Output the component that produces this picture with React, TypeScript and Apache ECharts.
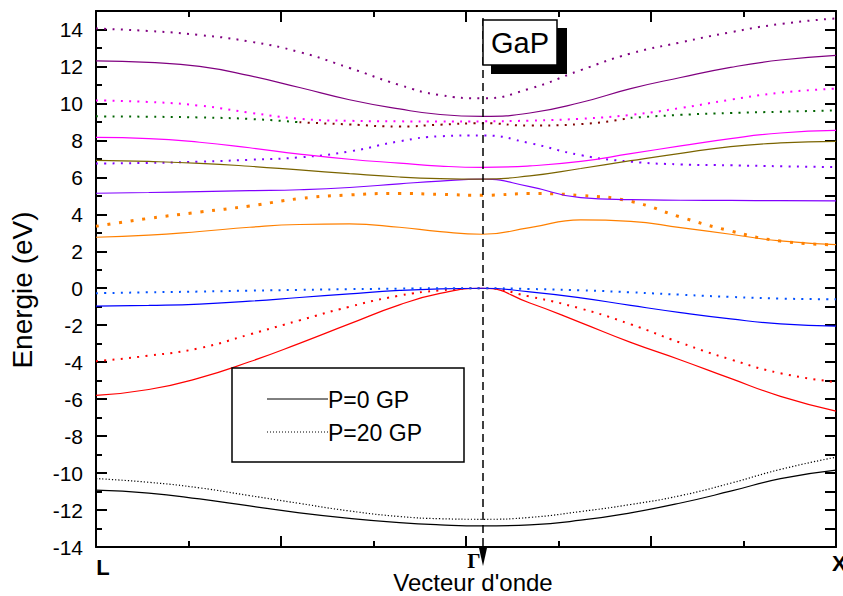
import { useEffect, useRef } from "react";
import * as echarts from "echarts";

// k-path abscissa (L = 0, Γ ≈ 4.18, X = 8)
const kPoints = [0, 0.57, 1.12, 1.66, 2.2, 2.74, 3.28, 3.72, 4.18, 4.69, 5.24, 5.78, 6.32, 6.86, 7.4, 8];
const kLabelL = "L";
const kLabelG = "Γ";
const kLabelX = "X";
const legendLabels = ["P=0 GP", "P=20 GP"];

// P = 0 GP (solid)
const p0Black = [-10.92, -11.08, -11.4, -11.78, -12.15, -12.45, -12.68, -12.8, -12.86, -12.8, -12.55, -12.15, -11.62, -10.98, -10.3, -9.84];
const p0Red = [-5.8, -5.48, -4.85, -3.98, -2.98, -1.93, -0.9, -0.28, 0, -0.8, -1.86, -2.93, -3.88, -4.88, -5.85, -6.65];
const p0Blue = [-0.97, -0.93, -0.86, -0.7, -0.5, -0.3, -0.12, -0.03, 0, -0.2, -0.52, -0.93, -1.32, -1.66, -1.93, -2.05];
const p0Orange = [2.76, 2.87, 3.07, 3.3, 3.45, 3.48, 3.3, 3.06, 2.92, 3.28, 3.7, 3.62, 3.28, 2.92, 2.56, 2.36];
const p0Violet = [5.14, 5.18, 5.23, 5.28, 5.33, 5.45, 5.65, 5.8, 5.9, 5.5, 4.9, 4.79, 4.76, 4.75, 4.74, 4.73];
const p0Olive = [6.92, 6.86, 6.76, 6.6, 6.4, 6.2, 6.02, 5.93, 5.9, 6.08, 6.48, 6.9, 7.3, 7.66, 7.86, 7.95];
const p0Magenta = [8.16, 8.1, 7.9, 7.6, 7.26, 6.98, 6.77, 6.61, 6.54, 6.62, 6.86, 7.28, 7.7, 8.1, 8.4, 8.54];
const p0Purple = [12.3, 12.22, 12.0, 11.5, 10.86, 10.2, 9.7, 9.4, 9.3, 9.48, 10.05, 10.8, 11.4, 11.95, 12.35, 12.6];

// P = 20 GP (dotted)
const p20Black = [-10.3, -10.5, -10.8, -11.22, -11.64, -12.05, -12.35, -12.47, -12.5, -12.4, -12.08, -11.7, -11.22, -10.55, -9.8, -9.14];
const p20Red = [-3.95, -3.65, -3.24, -2.5, -1.74, -1.0, -0.4, -0.12, 0, -0.45, -1.1, -1.95, -2.95, -3.85, -4.6, -5.08];
const p20Blue = [-0.27, -0.22, -0.18, -0.13, -0.09, -0.05, -0.02, 0, 0, -0.04, -0.11, -0.22, -0.35, -0.47, -0.56, -0.6];
const p20Orange = [3.35, 3.78, 4.12, 4.45, 4.85, 5.05, 5.13, 5.08, 5.03, 5.12, 5.02, 4.7, 3.85, 3.1, 2.55, 2.35];
const p20Violet = [6.75, 6.78, 6.85, 6.95, 7.08, 7.4, 7.95, 8.22, 8.27, 7.85, 7.2, 6.85, 6.7, 6.65, 6.6, 6.55];
const p20Green = [9.3, 9.28, 9.24, 9.16, 8.98, 8.86, 8.75, 8.85, 8.93, 8.8, 8.88, 9.22, 9.38, 9.48, 9.55, 9.62];
const p20Magenta = [10.16, 10.08, 9.88, 9.5, 9.17, 9.06, 9.03, 9.02, 9.03, 9.07, 9.17, 9.38, 9.75, 10.2, 10.58, 10.8];
const p20Purple = [14.05, 13.92, 13.7, 13.35, 12.78, 11.92, 11.0, 10.45, 10.28, 10.8, 11.8, 12.7, 13.3, 13.85, 14.3, 14.6];

const FONT = '"Liberation Sans", Arial, sans-serif';
const SMOOTH = 0.5;

function pts(values: number[], from = 0, to = values.length - 1) {
  const out: number[][] = [];
  for (let i = from; i <= to; i++) out.push([kPoints[i], values[i]]);
  return out;
}

function solid(name: string, values: number[], color: string) {
  return {
    name,
    type: "line",
    data: pts(values),
    smooth: SMOOTH,
    symbol: "none",
    lineStyle: { color, width: 1.2, type: "solid" },
    z: 3,
  };
}

function dotted(name: string, data: number[][], color: string, w = 2, gap = 6.3) {
  return {
    name,
    type: "line",
    data,
    smooth: SMOOTH,
    symbol: "none",
    lineStyle: { color, width: w, type: [w, gap], cap: "butt" },
    z: 3,
  };
}

export default function App() {
  const ref = useRef<HTMLDivElement>(null);

  useEffect(() => {
    if (!ref.current) return;
    const chart = echarts.init(ref.current, undefined, { renderer: "svg" });

    const axisLine = { show: true, onZero: false, lineStyle: { color: "#000", width: 2 } };
    const xCommon = {
      type: "value",
      min: 0,
      max: 8,
      interval: 2,
      axisLine,
      axisTick: { show: true, inside: true, length: 11, lineStyle: { color: "#000", width: 2 } },
      minorTick: { show: true, splitNumber: 2, length: 6, lineStyle: { color: "#000", width: 2 } },
      axisLabel: { show: false },
      splitLine: { show: false },
      minorSplitLine: { show: false },
    };

    const option: any = {
      animation: false,
      backgroundColor: "#fff",
      grid: { left: 96, right: 7, top: 11, bottom: 49 },
      xAxis: [
        { ...xCommon, position: "bottom" },
        { ...xCommon, position: "top" },
      ],
      yAxis: [
        {
          type: "value",
          position: "left",
          min: -14,
          max: 15,
          interval: 2,
          axisLine,
          axisTick: { show: true, inside: true, length: 11, lineStyle: { color: "#000", width: 2 } },
          axisLabel: {
            show: true,
            color: "#000",
            fontSize: 21,
            fontFamily: FONT,
            margin: 13,
            showMaxLabel: false,
          },
          splitLine: { show: false },
        },
        {
          type: "value",
          position: "left",
          min: -14,
          max: 15,
          interval: 1,
          axisLine: { show: false, onZero: false },
          axisTick: { show: true, inside: true, length: 6, lineStyle: { color: "#000", width: 2 } },
          axisLabel: { show: false },
          splitLine: { show: false },
        },
        {
          type: "value",
          position: "right",
          min: -14,
          max: 15,
          interval: 1,
          axisLine,
          axisTick: { show: true, inside: true, length: 11, lineStyle: { color: "#000", width: 2 } },
          axisLabel: { show: false },
          splitLine: { show: false },
        },
      ],
      series: [
        solid("p0Black", p0Black, "#000000"),
        dotted("p20Black", pts(p20Black), "#000000", 1.2, 2),
        solid("p0Red", p0Red, "#ff0000"),
        dotted("p20Red", pts(p20Red), "#ff0000"),
        solid("p0Blue", p0Blue, "#0000ff"),
        dotted("p20Blue", pts(p20Blue), "#0050ff"),
        solid("p0Orange", p0Orange, "#ff8000"),
        dotted("p20Orange", pts(p20Orange), "#ff8000", 3, 8.7),
        solid("p0Violet", p0Violet, "#8000ff"),
        dotted("p20Violet", pts(p20Violet), "#8000ff"),
        solid("p0Olive", p0Olive, "#7a6400"),
        solid("p0Magenta", p0Magenta, "#ff00ff"),
        dotted("p20GreenL", pts(p20Green, 0, 4), "#006400"),
        dotted("p20GreenM", pts(p20Green, 4, 11), "#800000"),
        dotted("p20GreenR", pts(p20Green, 11, 15), "#006400"),
        dotted("p20Magenta", pts(p20Magenta), "#ff00ff"),
        solid("p0Purple", p0Purple, "#800080"),
        dotted("p20Purple", pts(p20Purple), "#800080"),
      ],
      graphic: [
        {
          type: "text",
          x: 22,
          y: 290,
          rotation: Math.PI / 2,
          z: 100,
          style: { text: "Energie (eV)", fontSize: 28, fontFamily: FONT, fill: "#000", align: "center", verticalAlign: "middle" },
        },
        {
          type: "text",
          x: 473,
          y: 582,
          z: 100,
          style: { text: "Vecteur d'onde", fontSize: 24, fontFamily: FONT, fill: "#000", align: "center", verticalAlign: "middle" },
        },
        {
          type: "text",
          x: 103,
          y: 567,
          z: 100,
          style: { text: kLabelL, fontSize: 22, fontWeight: "bold", fontFamily: FONT, fill: "#000", align: "center", verticalAlign: "middle" },
        },
        {
          type: "text",
          x: 474,
          y: 561,
          z: 100,
          style: { text: kLabelG, fontSize: 21, fontWeight: "bold", fontFamily: '"Liberation Serif", serif', fill: "#000", align: "center", verticalAlign: "middle" },
        },
        {
          type: "text",
          x: 832,
          y: 563,
          z: 100,
          style: { text: kLabelX, fontSize: 22, fontWeight: "bold", fontFamily: FONT, fill: "#000", align: "left", verticalAlign: "middle" },
        },
        {
          type: "line",
          z: 100,
          shape: { x1: 483, y1: 18, x2: 483, y2: 549 },
          style: { stroke: "#000", lineWidth: 1.5, lineDash: [8, 5] },
        },
        {
          type: "polygon",
          z: 100,
          shape: { points: [[479, 548], [487, 548], [483, 566]] },
          style: { fill: "#000" },
        },
        {
          type: "rect",
          z: 100,
          shape: { x: 491, y: 28, width: 76, height: 46 },
          style: { fill: "#000" },
        },
        {
          type: "rect",
          z: 101,
          shape: { x: 483, y: 20, width: 74, height: 45 },
          style: { fill: "#fff", stroke: "#000", lineWidth: 1.5 },
        },
        {
          type: "text",
          x: 520,
          y: 43,
          z: 102,
          style: { text: "GaP", fontSize: 29, fontFamily: FONT, fill: "#000", align: "center", verticalAlign: "middle" },
        },
        {
          type: "rect",
          z: 100,
          shape: { x: 232, y: 368, width: 232, height: 94 },
          style: { fill: "#fff", stroke: "#000", lineWidth: 1.5 },
        },
        {
          type: "line",
          z: 101,
          shape: { x1: 267, y1: 399, x2: 328, y2: 399 },
          style: { stroke: "#000", lineWidth: 1 },
        },
        {
          type: "line",
          z: 101,
          shape: { x1: 267, y1: 432, x2: 328, y2: 432 },
          style: { stroke: "#000", lineWidth: 1, lineDash: [1, 2] },
        },
        {
          type: "text",
          x: 328,
          y: 400,
          z: 101,
          style: { text: legendLabels[0], fontSize: 23, fontFamily: FONT, fill: "#000", align: "left", verticalAlign: "middle" },
        },
        {
          type: "text",
          x: 328,
          y: 433,
          z: 101,
          style: { text: legendLabels[1], fontSize: 23, fontFamily: FONT, fill: "#000", align: "left", verticalAlign: "middle" },
        },
      ],
    };

    chart.setOption(option);
    return () => chart.dispose();
  }, []);

  return (
    <div
      ref={ref}
      style={{ position: "fixed", left: 0, top: 0, width: 843, height: 596, background: "#fff" }}
    />
  );
}
